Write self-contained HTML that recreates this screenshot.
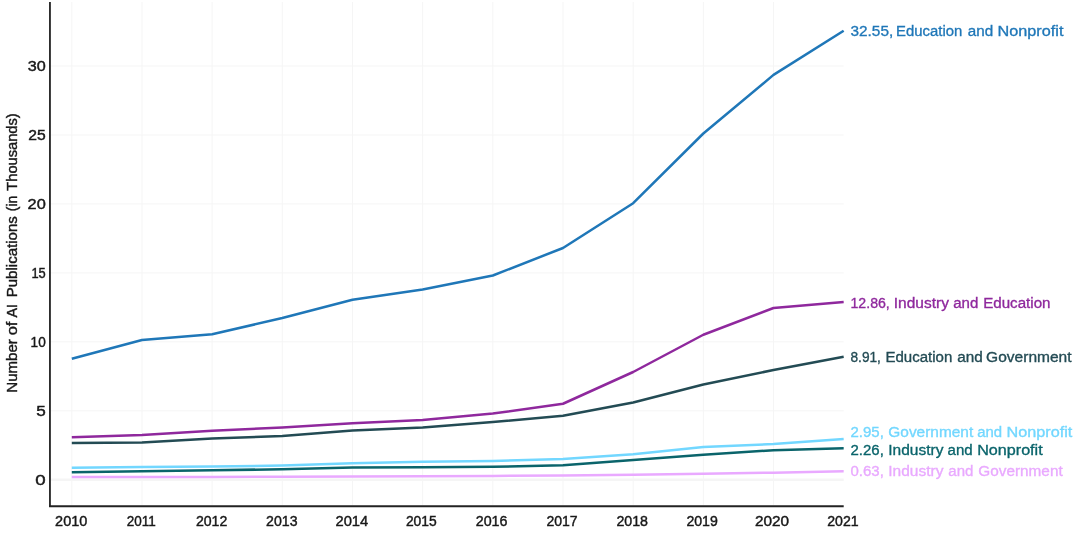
<!DOCTYPE html>
<html lang="en"><head><meta charset="utf-8"><title>Number of AI Publications</title>
<style>
html,body{margin:0;padding:0;background:#fff;}
body{width:1080px;height:537px;overflow:hidden;}
svg{display:block;}
text{font-family:"Liberation Sans",sans-serif;}
.t{font-size:14px;fill:#181818;stroke:#181818;stroke-width:0.42px;}
.l{font-size:14px;stroke-width:0.32px;}
.yl{font-size:14px;fill:#181818;stroke:#181818;stroke-width:0.4px;}
</style></head><body>
<svg width="1080" height="537" viewBox="0 0 1080 537">
<rect width="1080" height="537" fill="#fff"/>

<g stroke="#f5f5f5" stroke-width="1" fill="none">
<line x1="71.80" y1="2" x2="71.80" y2="505"/>
<line x1="141.97" y1="2" x2="141.97" y2="505"/>
<line x1="212.14" y1="2" x2="212.14" y2="505"/>
<line x1="282.31" y1="2" x2="282.31" y2="505"/>
<line x1="352.48" y1="2" x2="352.48" y2="505"/>
<line x1="422.65" y1="2" x2="422.65" y2="505"/>
<line x1="492.82" y1="2" x2="492.82" y2="505"/>
<line x1="562.99" y1="2" x2="562.99" y2="505"/>
<line x1="633.16" y1="2" x2="633.16" y2="505"/>
<line x1="703.33" y1="2" x2="703.33" y2="505"/>
<line x1="773.50" y1="2" x2="773.50" y2="505"/>
<line x1="50" y1="410.84" x2="843.7" y2="410.84"/>
<line x1="50" y1="341.87" x2="843.7" y2="341.87"/>
<line x1="50" y1="272.91" x2="843.7" y2="272.91"/>
<line x1="50" y1="203.94" x2="843.7" y2="203.94"/>
<line x1="50" y1="134.98" x2="843.7" y2="134.98"/>
<line x1="50" y1="66.01" x2="843.7" y2="66.01"/>
</g>
<line x1="50" y1="479.80" x2="843.7" y2="479.80" stroke="#f5f5f5" stroke-width="2.4"/>
<polyline points="71.80,477.10 141.97,477.00 212.14,476.90 282.31,476.70 352.48,476.50 422.65,476.30 492.82,475.90 562.99,475.40 633.16,474.70 703.33,473.70 773.50,472.70 843.67,471.30" fill="none" stroke="#e9a9ff" stroke-width="2.5" stroke-linejoin="round"/>
<polyline points="71.80,472.30 141.97,471.25 212.14,470.25 282.31,469.25 352.48,467.50 422.65,467.25 492.82,466.75 562.99,465.25 633.16,460.00 703.33,454.75 773.50,450.25 843.67,448.20" fill="none" stroke="#0a646b" stroke-width="2.5" stroke-linejoin="round"/>
<polyline points="71.80,467.80 141.97,467.00 212.14,466.50 282.31,465.60 352.48,463.25 422.65,461.80 492.82,461.00 562.99,459.00 633.16,454.25 703.33,447.00 773.50,444.00 843.67,438.90" fill="none" stroke="#72d7ff" stroke-width="2.5" stroke-linejoin="round"/>
<polyline points="71.80,443.00 141.97,442.50 212.14,438.50 282.31,436.00 352.48,430.50 422.65,427.50 492.82,422.00 562.99,415.75 633.16,402.50 703.33,384.50 773.50,370.00 843.67,356.80" fill="none" stroke="#234b54" stroke-width="2.5" stroke-linejoin="round"/>
<polyline points="71.80,437.25 141.97,435.00 212.14,430.75 282.31,427.50 352.48,423.25 422.65,420.00 492.82,413.60 562.99,403.75 633.16,372.00 703.33,334.75 773.50,308.00 843.67,302.10" fill="none" stroke="#8f289d" stroke-width="2.5" stroke-linejoin="round"/>
<polyline points="71.80,358.75 141.97,340.00 212.14,334.25 282.31,318.00 352.48,299.75 422.65,289.50 492.82,275.50 562.99,248.00 633.16,203.20 703.33,133.50 773.50,74.90 843.67,30.70" fill="none" stroke="#1f77b8" stroke-width="2.5" stroke-linejoin="round"/>
<line x1="49.95" y1="2" x2="49.95" y2="507" stroke="#222" stroke-width="1.8"/>
<line x1="49.05" y1="506.25" x2="843.7" y2="506.25" stroke="#222" stroke-width="1.8"/>
<text class="t" x="55.10" y="525.8" textLength="32.20" lengthAdjust="spacingAndGlyphs">2010</text>
<text class="t" x="126.80" y="525.8" textLength="29.00" lengthAdjust="spacingAndGlyphs">2011</text>
<text class="t" x="195.90" y="525.8" textLength="31.40" lengthAdjust="spacingAndGlyphs">2012</text>
<text class="t" x="266.10" y="525.8" textLength="31.40" lengthAdjust="spacingAndGlyphs">2013</text>
<text class="t" x="335.50" y="525.8" textLength="32.70" lengthAdjust="spacingAndGlyphs">2014</text>
<text class="t" x="405.90" y="525.8" textLength="30.80" lengthAdjust="spacingAndGlyphs">2015</text>
<text class="t" x="475.70" y="525.8" textLength="31.80" lengthAdjust="spacingAndGlyphs">2016</text>
<text class="t" x="546.40" y="525.8" textLength="31.20" lengthAdjust="spacingAndGlyphs">2017</text>
<text class="t" x="616.40" y="525.8" textLength="31.60" lengthAdjust="spacingAndGlyphs">2018</text>
<text class="t" x="686.40" y="525.8" textLength="31.40" lengthAdjust="spacingAndGlyphs">2019</text>
<text class="t" x="755.00" y="525.8" textLength="34.10" lengthAdjust="spacingAndGlyphs">2020</text>
<text class="t" x="827.20" y="525.8" textLength="31.40" lengthAdjust="spacingAndGlyphs">2021</text>
<text class="t" x="35.30" y="485.10" textLength="10.40" lengthAdjust="spacingAndGlyphs">0</text>
<text class="t" x="36.20" y="416.14" textLength="9.50" lengthAdjust="spacingAndGlyphs">5</text>
<text class="t" x="30.60" y="347.17" textLength="15.10" lengthAdjust="spacingAndGlyphs">10</text>
<text class="t" x="31.40" y="278.21" textLength="14.30" lengthAdjust="spacingAndGlyphs">15</text>
<text class="t" x="27.60" y="209.24" textLength="18.20" lengthAdjust="spacingAndGlyphs">20</text>
<text class="t" x="28.30" y="140.28" textLength="17.40" lengthAdjust="spacingAndGlyphs">25</text>
<text class="t" x="27.80" y="71.31" textLength="18.00" lengthAdjust="spacingAndGlyphs">30</text>
<text class="yl" transform="translate(16.7 0) rotate(-90)" y="0"><tspan x="-392.7" textLength="53.5" lengthAdjust="spacingAndGlyphs">Number</tspan> <tspan x="-335.3" textLength="13.7" lengthAdjust="spacingAndGlyphs">of</tspan> <tspan x="-317.4" textLength="13.4" lengthAdjust="spacingAndGlyphs">AI</tspan> <tspan x="-297.3" textLength="81.1" lengthAdjust="spacingAndGlyphs">Publications</tspan> <tspan x="-211.2" textLength="15.4" lengthAdjust="spacingAndGlyphs">(in</tspan> <tspan x="-190.7" textLength="77.3" lengthAdjust="spacingAndGlyphs">Thousands)</tspan></text>
<text class="l" fill="#1f77b8" stroke="#1f77b8" y="35.6"><tspan x="850.5" textLength="42.7" lengthAdjust="spacingAndGlyphs">32.55,</tspan> <tspan x="896.1" textLength="66.2" lengthAdjust="spacingAndGlyphs">Education</tspan> <tspan x="967.8" textLength="25.4" lengthAdjust="spacingAndGlyphs">and</tspan> <tspan x="997.6" textLength="65.8" lengthAdjust="spacingAndGlyphs">Nonprofit</tspan></text>
<text class="l" fill="#8f289d" stroke="#8f289d" y="308.2"><tspan x="850.5" textLength="39.3" lengthAdjust="spacingAndGlyphs">12.86,</tspan> <tspan x="893.8" textLength="55.1" lengthAdjust="spacingAndGlyphs">Industry</tspan> <tspan x="953.2" textLength="25.1" lengthAdjust="spacingAndGlyphs">and</tspan> <tspan x="983.2" textLength="67.3" lengthAdjust="spacingAndGlyphs">Education</tspan></text>
<text class="l" fill="#234b54" stroke="#234b54" y="362.2"><tspan x="850.5" textLength="30.4" lengthAdjust="spacingAndGlyphs">8.91,</tspan> <tspan x="885.4" textLength="66.9" lengthAdjust="spacingAndGlyphs">Education</tspan> <tspan x="957.2" textLength="25.5" lengthAdjust="spacingAndGlyphs">and</tspan> <tspan x="986.1" textLength="85.5" lengthAdjust="spacingAndGlyphs">Government</tspan></text>
<text class="l" fill="#72d7ff" stroke="#72d7ff" y="436.6"><tspan x="850.5" textLength="33.3" lengthAdjust="spacingAndGlyphs">2.95,</tspan> <tspan x="888.3" textLength="84.9" lengthAdjust="spacingAndGlyphs">Government</tspan> <tspan x="977.2" textLength="24.9" lengthAdjust="spacingAndGlyphs">and</tspan> <tspan x="1006.5" textLength="65.8" lengthAdjust="spacingAndGlyphs">Nonprofit</tspan></text>
<text class="l" fill="#0a646b" stroke="#0a646b" y="454.6"><tspan x="850.5" textLength="33.3" lengthAdjust="spacingAndGlyphs">2.26,</tspan> <tspan x="888.3" textLength="55.1" lengthAdjust="spacingAndGlyphs">Industry</tspan> <tspan x="947.6" textLength="25.1" lengthAdjust="spacingAndGlyphs">and</tspan> <tspan x="977.2" textLength="65.5" lengthAdjust="spacingAndGlyphs">Nonprofit</tspan></text>
<text class="l" fill="#e9a9ff" stroke="#e9a9ff" y="475.9"><tspan x="850.5" textLength="33.3" lengthAdjust="spacingAndGlyphs">0.63,</tspan> <tspan x="888.3" textLength="55.1" lengthAdjust="spacingAndGlyphs">Industry</tspan> <tspan x="948.3" textLength="25.1" lengthAdjust="spacingAndGlyphs">and</tspan> <tspan x="978.3" textLength="84.4" lengthAdjust="spacingAndGlyphs">Government</tspan></text>
</svg></body></html>
